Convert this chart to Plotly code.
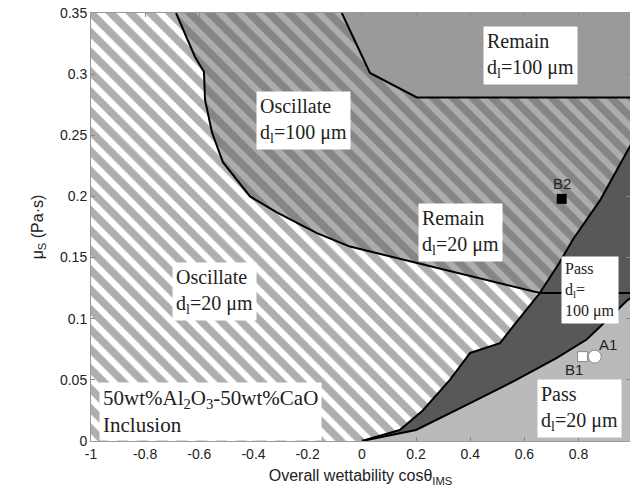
import plotly.graph_objects as go

# ---- data ----
# Boundary C1: Oscillate/Remain (d=20) boundary, then horizontal at 0.121
c1_x = [-0.686, -0.616, -0.583, -0.579, -0.553, -0.513, -0.413, -0.314, -0.166, -0.044, 0.657, 1.0]
c1_y = [0.35, 0.314, 0.302, 0.279, 0.252, 0.228, 0.200, 0.187, 0.170, 0.159, 0.121, 0.121]
# Boundary C3: Remain d=100 region
c3_x = [-0.074, 0.030, 0.203, 1.0]
c3_y = [0.35, 0.301, 0.281, 0.281]
# Boundary C2: Pass d=100 region
c2_x = [0.0, 0.14, 0.225, 0.325, 0.40, 0.51, 0.57, 0.657, 0.73, 0.78, 0.88, 0.99, 1.0]
c2_y = [0.0, 0.009, 0.025, 0.050, 0.072, 0.080, 0.097, 0.121, 0.146, 0.165, 0.197, 0.241, 0.245]
# Boundary C4: Pass d=20 region
c4_x = [0.0, 0.20, 0.40, 0.57, 0.72, 0.83, 0.92, 0.98, 1.0]
c4_y = [0.0, 0.009, 0.031, 0.050, 0.068, 0.083, 0.102, 0.115, 0.118]

# Points
pt_names = ["B2", "B1", "A1"]
pt_x = [0.738, 0.815, 0.86]
pt_y = [0.198, 0.069, 0.069]

x_ticks = [-1, -0.8, -0.6, -0.4, -0.2, 0, 0.2, 0.4, 0.6, 0.8]
x_ticklabels = ["-1", "-0.8", "-0.6", "-0.4", "-0.2", "0", "0.2", "0.4", "0.6", "0.8"]
y_ticks = [0, 0.05, 0.1, 0.15, 0.2, 0.25, 0.3, 0.35]
y_ticklabels = ["0", "0.05", "0.1", "0.15", "0.2", "0.25", "0.3", "0.35"]

XMIN, XMAX, YMIN, YMAX = -1.0, 1.0, 0.0, 0.35

STRIPE_FG = "#5e5e5e"
WHITE_BG = "#ffffff"
GRAY_BG = "#adadad"
REMAIN100 = "#9a9a9a"
DARK = "#585858"
PASS20 = "#bababa"
PSIZE = 14
PSOL = 0.55

fig = go.Figure()

# 1. whole area: white striped (Oscillate d=20)
fig.add_trace(go.Scatter(
    x=[XMIN, XMAX, XMAX, XMIN, XMIN], y=[YMIN, YMIN, YMAX, YMAX, YMIN],
    mode="none", fill="toself", fillcolor=WHITE_BG,
    fillpattern=dict(shape="\\", bgcolor=WHITE_BG, fgcolor=STRIPE_FG, size=PSIZE, solidity=PSOL),
    hoverinfo="skip", showlegend=False))

# 2. gray striped region above C1
fig.add_trace(go.Scatter(
    x=c1_x + [XMAX, c1_x[0]], y=c1_y + [YMAX, YMAX],
    mode="none", fill="toself", fillcolor=GRAY_BG,
    fillpattern=dict(shape="\\", bgcolor=GRAY_BG, fgcolor=STRIPE_FG, size=PSIZE, solidity=PSOL),
    hoverinfo="skip", showlegend=False))

# 3. Remain d=100
fig.add_trace(go.Scatter(
    x=c3_x + [XMAX, c3_x[0]], y=c3_y + [YMAX, YMAX],
    mode="none", fill="toself", fillcolor=REMAIN100,
    hoverinfo="skip", showlegend=False))

# 4. Pass d=100 (dark)
fig.add_trace(go.Scatter(
    x=c2_x + [XMAX, c2_x[0]], y=c2_y + [YMIN, YMIN],
    mode="none", fill="toself", fillcolor=DARK,
    hoverinfo="skip", showlegend=False))

# 5. Pass d=20
fig.add_trace(go.Scatter(
    x=c4_x + [XMAX, c4_x[0]], y=c4_y + [YMIN, YMIN],
    mode="none", fill="toself", fillcolor=PASS20,
    hoverinfo="skip", showlegend=False))

# boundary lines
for bx, by in [(c1_x, c1_y), (c3_x, c3_y), (c2_x, c2_y), (c4_x, c4_y)]:
    fig.add_trace(go.Scatter(x=bx, y=by, mode="lines",
                             line=dict(color="black", width=2),
                             hoverinfo="skip", showlegend=False))

# markers
fig.add_trace(go.Scatter(x=[pt_x[0]], y=[pt_y[0]], mode="markers",
                         marker=dict(symbol="square", size=10, color="black"),
                         showlegend=False))
fig.add_trace(go.Scatter(x=[pt_x[1]], y=[pt_y[1]], mode="markers",
                         marker=dict(symbol="square", size=10, color="white",
                                     line=dict(color="#888", width=1)),
                         showlegend=False))
fig.add_trace(go.Scatter(x=[pt_x[2]], y=[pt_y[2]], mode="markers",
                         marker=dict(symbol="circle", size=13, color="white",
                                     line=dict(color="#888", width=1)),
                         showlegend=False))

pt_font = dict(family="Arial, Liberation Sans, sans-serif", size=15, color="#222")
ann = []
ann.append(dict(x=pt_x[0], y=pt_y[0], text=pt_names[0], showarrow=False,
                xanchor="center", yanchor="bottom", yshift=5, font=pt_font))
ann.append(dict(x=pt_x[1], y=pt_y[1], text=pt_names[1], showarrow=False,
                xanchor="right", yanchor="top", xshift=2, yshift=-2, font=pt_font))
ann.append(dict(x=pt_x[2], y=pt_y[2], text=pt_names[2], showarrow=False,
                xanchor="left", yanchor="bottom", xshift=2, yshift=2, font=pt_font))

serif = "Times New Roman, Liberation Serif, serif"

def box(x, y, text, size=20):
    return dict(x=x, y=y, xref="x", yref="y", text=text, showarrow=False,
                xanchor="left", yanchor="top", align="left",
                bgcolor="white", borderpad=3,
                font=dict(family=serif, size=size, color="#222"))

ann.append(box(0.446, 0.339, "Remain<br>d<sub>l</sub>=100 μm"))
ann.append(box(-0.391, 0.286, "Oscillate<br>d<sub>l</sub>=100 μm"))
ann.append(box(0.207, 0.195, "Remain<br>d<sub>l</sub>=20 μm"))
ann.append(box(-0.70, 0.146, "Oscillate<br>d<sub>l</sub>=20 μm"))
ann.append(box(0.735, 0.151, "Pass<br>d<sub>l</sub>=<br>100 μm", size=16))
ann.append(box(0.646, 0.051, "Pass<br>d<sub>l</sub>=20 μm"))
ann.append(box(-0.97, 0.0485, "50wt%Al<sub>2</sub>O<sub>3</sub>-50wt%CaO<br>Inclusion", size=21))

tick_font = dict(family="Arial, Liberation Sans, sans-serif", size=14, color="#222")
title_font = dict(family="Arial, Liberation Sans, sans-serif", size=16, color="#222")

fig.update_layout(
    width=630, height=495,
    margin=dict(l=91, r=0, t=13, b=54),
    paper_bgcolor="white", plot_bgcolor="white",
    annotations=ann,
    xaxis=dict(range=[-1, 0.99], tickvals=x_ticks, ticktext=x_ticklabels,
               ticks="inside", ticklen=4, tickcolor="#888", showgrid=False,
               zeroline=False, showline=True, linecolor="#999", mirror="ticks",
               tickfont=tick_font,
               title=dict(text="Overall wettability cosθ<sub>IMS</sub>",
                          font=title_font, standoff=9)),
    yaxis=dict(range=[0, 0.35], tickvals=y_ticks, ticktext=y_ticklabels,
               ticks="inside", ticklen=4, tickcolor="#888", showgrid=False,
               zeroline=False, showline=True, linecolor="#999", mirror="ticks",
               tickfont=tick_font,
               title=dict(text="μ<sub>S</sub> (Pa·s)", font=title_font, standoff=12)),
)

fig.write_html("out.html")
